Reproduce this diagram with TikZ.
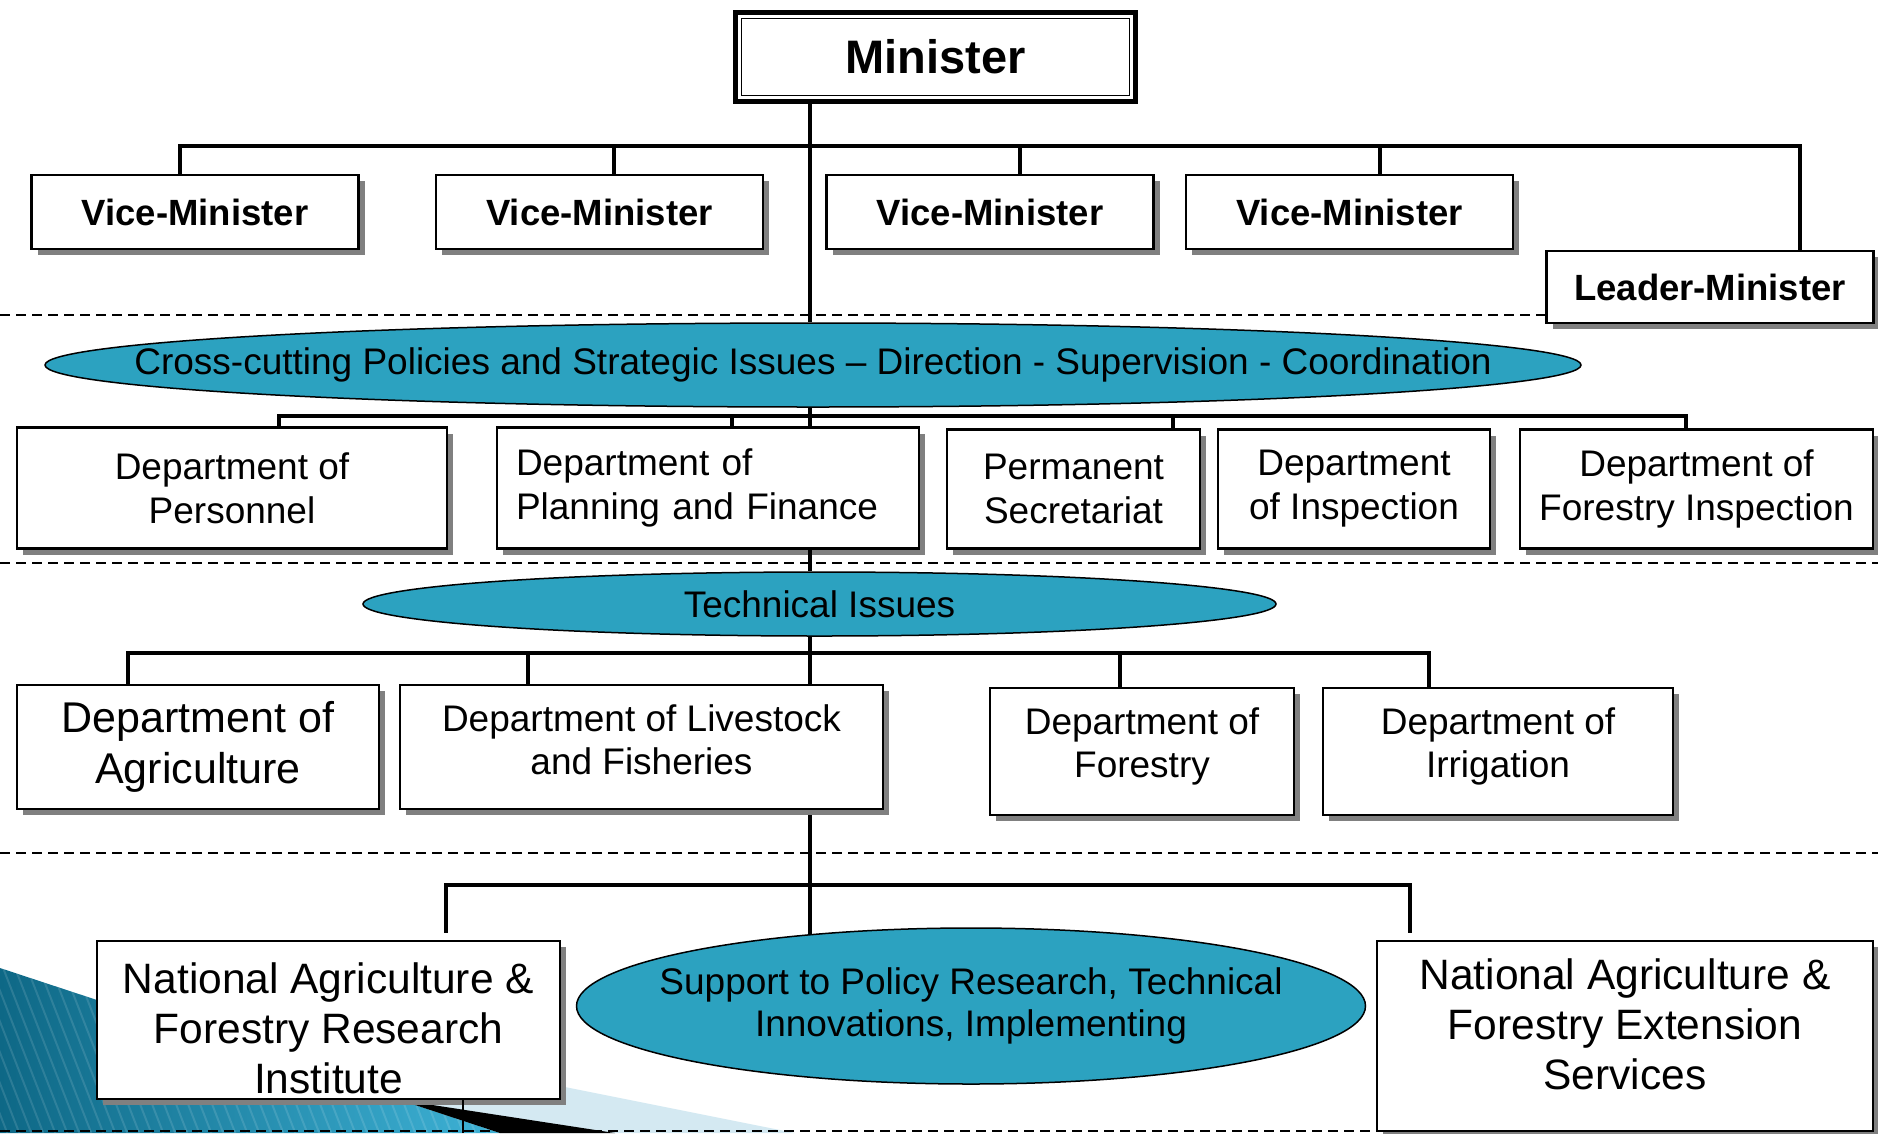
\documentclass[tikz,border=0pt]{standalone}
\usepackage{fontspec}
\setmainfont{Liberation Sans}
\usetikzlibrary{shapes.geometric,shadows,backgrounds}
\definecolor{ellfill}{RGB}{44,162,192}
\definecolor{shadowgray}{RGB}{128,128,128}
\definecolor{decoteal}{RGB}{14,104,134}
\definecolor{decolight}{RGB}{62,178,214}
\definecolor{decopale}{RGB}{212,233,242}
\newcommand{\fsN}{\fontsize{37}{44}\selectfont}
\newcommand{\fsR}{\fontsize{37}{43}\selectfont}
\newcommand{\fsVM}{\fontsize{36.5}{44}\selectfont\bfseries}
\newcommand{\fsAg}{\fontsize{43}{51}\selectfont}
\newcommand{\fsBig}{\fontsize{42.5}{50}\selectfont}
\newcommand{\dep}[1]{\rule[-#1]{0pt}{#1}}
\begin{document}
\begin{tikzpicture}[x=1pt,y=-1pt,
  box/.style={draw=black, line width=2.5pt, fill=white, inner sep=0pt, align=center,
     drop shadow={shadow xshift=6pt, shadow yshift=-6pt, fill=shadowgray, opacity=1}},
  ell/.style={ellipse, draw=black, line width=1.5pt, fill=ellfill, inner sep=0pt},
  conn/.style={draw=black, line width=4pt},
  sep/.style={draw=black, line width=2.5pt, dash pattern=on 10pt off 6pt},
  ]
\useasboundingbox (0,0) rectangle (1878,1133);
\clip (0,0) rectangle (1878,1133);

% ---- Minister
\node[draw=black, line width=5pt, fill=white, minimum width=400pt, minimum height=89pt,
      inner sep=0pt, font=\fontsize{47}{56}\selectfont\bfseries] (min) at (935.5,57) {Minister};
\draw[line width=1.5pt] ([shift={(8.5pt,8.5pt)}]min.south west) rectangle ([shift={(-8.5pt,-8.5pt)}]min.north east);

% ---- Vice-Ministers
\node[box, minimum width=327pt, minimum height=74pt, font=\fsVM] (vm1) at (195,212) {Vice-Minister};
\node[box, minimum width=327pt, minimum height=74pt, font=\fsVM] (vm2) at (599.5,212) {Vice-Minister};
\node[box, minimum width=327pt, minimum height=74pt, font=\fsVM] (vm3) at (990,212) {Vice-Minister};
\node[box, minimum width=327pt, minimum height=74pt, font=\fsVM] (vm4) at (1349.5,212) {Vice-Minister};
\node[box, minimum width=327pt, minimum height=72pt, font=\fsVM] (lm) at (1710,287) {Leader-Minister};

% ---- Cross-cutting ellipse
\node[ell, minimum width=1536pt, minimum height=84pt] (cc) at (813,365) {};
\node[font=\fsN] (cctext) at (cc.center) {Cross-cutting Policies and Strategic Issues – Direction - Supervision - Coordination};

% ---- Departments row
\node[box, minimum width=430pt, minimum height=121pt, font=\fsN] (pers) at (232,488) {Department of\\Personnel};
\node[box, minimum width=422pt, minimum height=121pt, text width=384pt, align=left, font=\fsN] (plan) at (708,488) {Department of\\Planning and Finance};
\node[box, minimum width=253pt, minimum height=119pt, font=\fsN] (perm) at (1073.5,489) {Permanent\\Secretariat};
\node[box, minimum width=272pt, minimum height=119pt, font=\fsN] (insp) at (1354,489) {Department\\of Inspection};
\node[box, minimum width=353pt, minimum height=119pt, font=\fsN] (fins) at (1696.5,489) {Department of\\Forestry Inspection};

% ---- Technical ellipse
\node[ell, minimum width=913pt, minimum height=64pt] (tech) at (819.5,604) {};
\node[font=\fsN] (techtext) at (tech.center) {Technical Issues};

% ---- Technical departments
\node[box, minimum width=362pt, minimum height=124pt, font=\fsAg] (agri) at (198,747) {Department of\\Agriculture};
\node[box, minimum width=483pt, minimum height=124pt, font=\fsR] (live) at (641.5,747) {Department of Livestock\\and Fisheries\dep{14pt}};
\node[box, minimum width=304pt, minimum height=127pt, font=\fsR] (fore) at (1142,751.5) {Department of\\Forestry\dep{18pt}};
\node[box, minimum width=350pt, minimum height=127pt, font=\fsR] (irr) at (1498,751.5) {Department of\\Irrigation\dep{18pt}};

% ---- Bottom row
\node[box, minimum width=463pt, minimum height=158pt, font=\fsBig] (nafri) at (328.5,1020) {\rule{0pt}{48pt}National Agriculture \&\\Forestry Research\\Institute};
\node[ell, minimum width=789pt, minimum height=156pt] (sup) at (971,1006) {};
\node[font=\fontsize{37}{42}\selectfont, align=center] (suptext) at (sup.center) {Support to Policy Research, Technical\\Innovations, Implementing};
\node[box, minimum width=496pt, minimum height=190pt, font=\fsBig] (ext) at (1625,1036) {National Agriculture \&\\Forestry Extension\\Services\dep{24pt}};

% ---- coordinates for buses and trunk
\coordinate (t) at (810,0);
\coordinate (j1) at (180,146);
\coordinate (j2) at (614,146);
\coordinate (j3) at (1020,146);
\coordinate (j4) at (1380,146);
\coordinate (j5) at (1800,146);
\coordinate (k1) at (279,416);
\coordinate (k2) at (732,416);
\coordinate (k3) at (1173,416);
\coordinate (k4) at (1686,416);
\coordinate (m1) at (128,653);
\coordinate (m2) at (528,653);
\coordinate (m3) at (1120,653);
\coordinate (m4) at (1429,653);
\coordinate (n1) at (446,885);
\coordinate (n2) at (1410,885);
\coordinate (q) at (463,1133);

% ---- connectors (front)
\draw[conn] (min.south -| t) -- (cc.north -| t);
\draw[conn] (vm1.north -| j1) -- (j1) -- (j5) -- (lm.north -| j5);
\draw[conn] (j2) -- (vm2.north -| j2);
\draw[conn] (j3) -- (vm3.north -| j3);
\draw[conn] (j4) -- (vm4.north -| j4);
\draw[conn] (cc.south -| t) -- (plan.north -| t);
\draw[conn] (pers.north -| k1) -- (k1) -- (k4) -- (fins.north -| k4);
\draw[conn] (k2) -- (plan.north -| k2);
\draw[conn] (k3) -- (perm.north -| k3);
\draw[conn] (plan.south -| t) -- (tech.north -| t);
\draw[conn] (tech.south -| t) -- (live.north -| t);
\draw[conn] (agri.north -| m1) -- (m1) -- (m4) -- (irr.north -| m4);
\draw[conn] (m2) -- (live.north -| m2);
\draw[conn] (m3) -- (fore.north -| m3);
\draw[conn, shorten <=7pt, shorten >=7pt] (nafri.north -| n1) -- (n1) -- (n2) -- (ext.north -| n2);
\draw[line width=1.5pt] (nafri.south -| q) -- (q);

% ---- background: decoration, separators, lower trunk
\begin{scope}[on background layer]
  \fill[decopale] (420,1058) -- (795,1133) -- (420,1133) -- cycle;
  \shade[left color=decoteal, right color=decolight] (0,968) -- (500,1133) -- (0,1133) -- cycle;
  \begin{scope}
    \clip (0,968) -- (500,1133) -- (0,1133) -- cycle;
    \foreach \i in {-60,-48,...,520} {
      \draw[white, opacity=0.12, line width=2pt] (\i,960) -- (\i+70,1140);
    }
  \end{scope}
  \draw[sep] (0,315) -- (1878,315);
  \draw[sep] (0,563) -- (1878,563);
  \draw[sep] (0,853) -- (1878,853);
  \draw[sep] (0,1131) -- (1878,1131);
  \fill[black] (400,1100) -- (615,1133) -- (500,1133) -- cycle;
  \draw[conn] (live.south -| t) -- (sup.center -| t);
\end{scope}
\end{tikzpicture}
\end{document}
